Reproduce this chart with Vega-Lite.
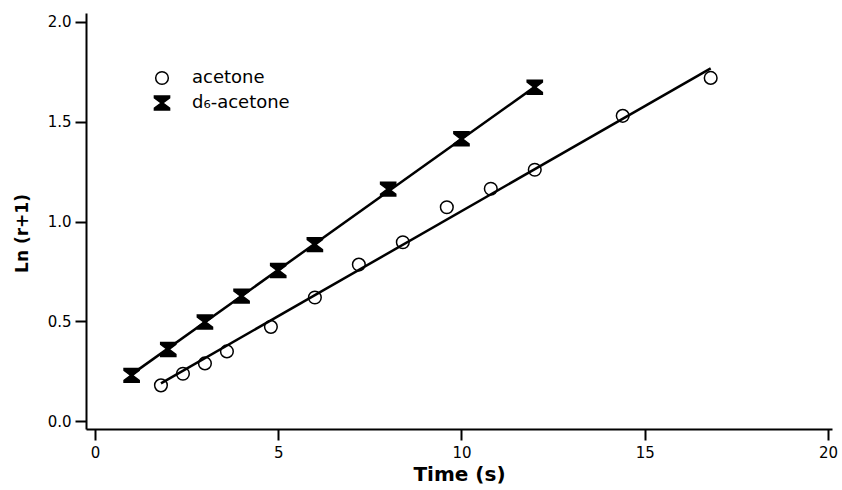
{
  "$schema": "https://vega.github.io/schema/vega-lite/v6.json",
  "width": 746,
  "height": 416,
  "autosize": "none",
  "padding": {"left": 86, "top": 13, "right": 10, "bottom": 61},
  "background": "white",
  "config": {
    "view": {"stroke": null},
    "font": "DejaVu Sans",
    "axis": {
      "grid": false,
      "domainColor": "black",
      "domainWidth": 2,
      "tickColor": "black",
      "tickWidth": 2,
      "tickSize": 11,
      "labelFont": "DejaVu Sans",
      "labelFontSize": 15,
      "labelColor": "black",
      "titleFont": "DejaVu Sans",
      "titleColor": "black",
      "titleFontWeight": "bold"
    }
  },
  "datasets": {
    "points": [
      {"series": "acetone", "time": 1.8, "lnr": 0.18},
      {"series": "acetone", "time": 2.4, "lnr": 0.238},
      {"series": "acetone", "time": 3.0, "lnr": 0.29},
      {"series": "acetone", "time": 3.6, "lnr": 0.35},
      {"series": "acetone", "time": 4.8, "lnr": 0.473},
      {"series": "acetone", "time": 6.0, "lnr": 0.62},
      {"series": "acetone", "time": 7.2, "lnr": 0.785},
      {"series": "acetone", "time": 8.4, "lnr": 0.897},
      {"series": "acetone", "time": 9.6, "lnr": 1.072},
      {"series": "acetone", "time": 10.8, "lnr": 1.165},
      {"series": "acetone", "time": 12.0, "lnr": 1.26},
      {"series": "acetone", "time": 14.4, "lnr": 1.53},
      {"series": "acetone", "time": 16.8, "lnr": 1.72},
      {"series": "d₆-acetone", "time": 1, "lnr": 0.23},
      {"series": "d₆-acetone", "time": 2, "lnr": 0.36},
      {"series": "d₆-acetone", "time": 3, "lnr": 0.497},
      {"series": "d₆-acetone", "time": 4, "lnr": 0.627},
      {"series": "d₆-acetone", "time": 5, "lnr": 0.755},
      {"series": "d₆-acetone", "time": 6, "lnr": 0.885},
      {"series": "d₆-acetone", "time": 8, "lnr": 1.163},
      {"series": "d₆-acetone", "time": 10, "lnr": 1.415},
      {"series": "d₆-acetone", "time": 12, "lnr": 1.673}
    ],
    "fits": [
      {"series": "acetone", "time": 1.8, "lnr": 0.19},
      {"series": "acetone", "time": 16.8, "lnr": 1.768},
      {"series": "d₆-acetone", "time": 1.0, "lnr": 0.235},
      {"series": "d₆-acetone", "time": 12.0, "lnr": 1.675}
    ]
  },
  "layer": [
    {
      "data": {"name": "fits"},
      "mark": {"type": "line", "color": "black", "strokeWidth": 2.5},
      "encoding": {
        "x": {"field": "time", "type": "quantitative",
              "scale": {"domain": [-0.245, 20.11], "nice": false, "zero": false},
              "axis": {"values": [0, 5, 10, 15, 20], "format": "d", "title": "Time (s)", "titleFontSize": 20, "labelPadding": 5, "titlePadding": 4}},
        "y": {"field": "lnr", "type": "quantitative",
              "scale": {"domain": [-0.0385, 2.045], "nice": false, "zero": false},
              "axis": {"values": [0, 0.5, 1, 1.5, 2], "format": ".1f", "title": "Ln (r+1)", "titleFontSize": 17, "labelPadding": 4, "titleX": -64, "titleY": 220, "titleBaseline": "middle", "titleAngle": -90}},
        "detail": {"field": "series", "type": "nominal"}
      }
    },
    {
      "data": {"name": "points"},
      "mark": {"type": "point", "filled": true, "stroke": "black", "strokeWidth": 1.5, "size": 160, "opacity": 1},
      "encoding": {
        "x": {"field": "time", "type": "quantitative"},
        "y": {"field": "lnr", "type": "quantitative"},
        "shape": {"field": "series", "type": "nominal",
                  "scale": {"domain": ["acetone", "d₆-acetone"], "range": ["circle", "M-1.2,-1.1L1.2,-1.1L1.2,-0.8L0.14,0L1.2,0.8L1.2,1.1L-1.2,1.1L-1.2,0.8L-0.14,0L-1.2,-0.8Z"]},
                  "legend": {"title": null, "orient": "none", "legendX": 67, "legendY": 56, "padding": 0, "symbolSize": 160, "labelFontSize": 18, "labelColor": "black", "labelFont": "DejaVu Sans", "labelOffset": 21, "rowPadding": 5,
                             "encode": {"symbols": {"update": {"stroke": {"value": "black"}, "strokeWidth": {"value": 1.5}, "opacity": {"value": 1}}}}}},
        "fill": {"field": "series", "type": "nominal",
                 "scale": {"domain": ["acetone", "d₆-acetone"], "range": ["transparent", "black"]},
                 "legend": {"title": null, "orient": "none", "legendX": 67, "legendY": 56, "padding": 0, "symbolSize": 160, "labelFontSize": 18, "labelColor": "black", "labelFont": "DejaVu Sans", "labelOffset": 21, "rowPadding": 5,
                            "encode": {"symbols": {"update": {"stroke": {"value": "black"}, "strokeWidth": {"value": 1.5}, "opacity": {"value": 1}}}}}}
      }
    }
  ]
}
